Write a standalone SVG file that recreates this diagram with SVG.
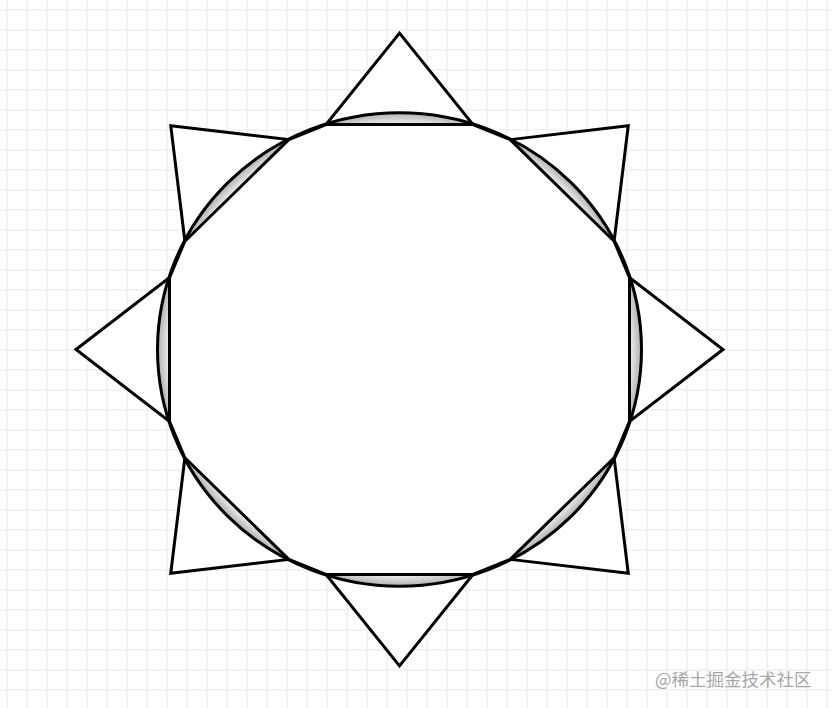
<svg xmlns="http://www.w3.org/2000/svg" xmlns:xlink="http://www.w3.org/1999/xlink" width="832" height="708" viewBox="0 0 832 708">
  <defs>
    <pattern id="grid" width="20" height="20" patternUnits="userSpaceOnUse" x="6" y="9">
      <path d="M1,0 V20 M0,1 H20" fill="none" stroke="#f0f0f0" stroke-width="1.6"/>
    </pattern>
    <radialGradient id="shade" cx="0" cy="0" r="242" gradientUnits="userSpaceOnUse">
      <stop offset="0" stop-color="#ffffff"/>
      <stop offset="0.94" stop-color="#ffffff"/>
      <stop offset="1" stop-color="#b0b0b0"/>
    </radialGradient>
    <polygon id="tri" points="0,-323.5 73.5,-230 -73.5,-230"/>
  </defs>
  <style>
    .shape { stroke: #000; stroke-width: 3; stroke-linejoin: miter; vector-effect: non-scaling-stroke; }
    .tri { fill: #fff; }
    .wm { font-family: "Noto Sans CJK SC", "Liberation Sans", sans-serif; font-size: 17.5px; fill: #a8a8a8; }
  </style>
  <rect width="832" height="708" fill="#fff"/>
  <rect width="832" height="708" fill="url(#grid)"/>
  <g id="sun" transform="translate(399.5,349.5) scale(1,0.978)">
    <g id="rays">
      <use xlink:href="#tri" class="shape tri" transform="rotate(0)"/>
      <use xlink:href="#tri" class="shape tri" transform="rotate(45)"/>
      <use xlink:href="#tri" class="shape tri" transform="rotate(90)"/>
      <use xlink:href="#tri" class="shape tri" transform="rotate(135)"/>
      <use xlink:href="#tri" class="shape tri" transform="rotate(180)"/>
      <use xlink:href="#tri" class="shape tri" transform="rotate(225)"/>
      <use xlink:href="#tri" class="shape tri" transform="rotate(270)"/>
      <use xlink:href="#tri" class="shape tri" transform="rotate(315)"/>
    </g>
    <circle id="disc" class="shape" cx="0" cy="0" r="242" fill="url(#shade)"/>
    <polygon id="core" class="shape" fill="#fff" points="-73.5,-230 73.5,-230 110.66,-214.61 214.61,-110.66 230,-73.5 230,73.5 214.61,110.66 110.66,214.61 73.5,230 -73.5,230 -110.66,214.61 -214.61,110.66 -230,73.5 -230,-73.5 -214.61,-110.66 -110.66,-214.61"/>
  </g>
  <text class="wm" x="655" y="686">@稀土掘金技术社区</text>
</svg>
